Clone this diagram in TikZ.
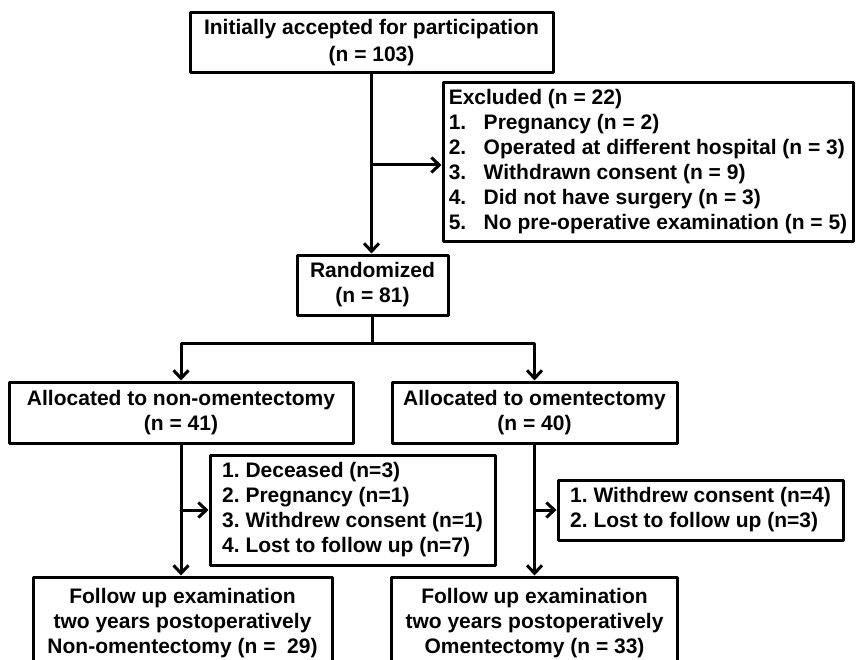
\documentclass[tikz,border=0pt]{standalone}
\usepackage{fontspec}
\setmainfont{Liberation Sans}
\usepackage{tikz}
\usetikzlibrary{arrows.meta}
\usetikzlibrary{positioning}
\tikzset{
  box/.style={draw,line width=3pt,align=center,inner sep=0pt,font=\fontsize{21}{25}\selectfont\bfseries},
  listbox/.style={box,align=left},
  link/.style={line width=3pt,-{Straight Barb[length=8pt,width=15pt,line width=3pt]}}
}
\newcommand{\itm}[1]{\makebox[35pt][l]{#1}}
\frenchspacing

\begin{document}
\begin{tikzpicture}[x=1pt,y=-1pt,line cap=round,line join=round]
\useasboundingbox (0,0) rectangle (858,660);
\clip (0,0) rectangle (858,660);
%% boxes
\node[box,minimum width=363pt,minimum height=60pt] (init) at (371.5,43) {Initially accepted for participation\\[2pt](n = 103)};
\node[listbox,minimum width=410pt,minimum height=158pt] (excl) at (648,162) {Excluded (n = 22)\\
\itm{1.}Pregnancy (n = 2)\\
\itm{2.}Operated at different hospital (n = 3)\\
\itm{3.}Withdrawn consent (n = 9)\\
\itm{4.}Did not have surgery (n = 3)\\
\itm{5.}No pre-operative examination (n = 5)};
\node[box,minimum width=151pt,minimum height=60pt] (rand) at (372.5,285) {Randomized\\(n = 81)};
\node[box,minimum width=344pt,minimum height=61pt] (lalloc) at (181,412.5) {Allocated to non-omentectomy\\(n = 41)};
\node[box,minimum width=285pt,minimum height=61pt] (ralloc) at (534.5,412.5) {Allocated to omentectomy\\(n = 40)};
\node[listbox,minimum width=285pt,minimum height=110pt] (ldrop) at (352.5,510) {1. Deceased (n=3)\\
2. Pregnancy (n=1)\\
3. Withdrew consent (n=1)\\
4. Lost to follow up (n=7)};
\node[listbox,minimum width=285pt,minimum height=60pt] (rdrop) at (700.5,510) {1. Withdrew consent (n=4)\\
2. Lost to follow up (n=3)};
\node[box,minimum width=299pt,minimum height=92pt] (lfollow) at (182.5,623) {Follow up examination\\two years postoperatively\\Non-omentectomy (n = ~29)};
\node[box,minimum width=286pt,minimum height=92pt] (rfollow) at (534.5,623) {Follow up examination\\two years postoperatively\\Omentectomy (n = 33)};
%% connectors
\coordinate (exarr) at (372,165);
\coordinate (split) at (372,343);
\draw[link] (init.south) -- (init.south |- rand.north);
\draw[link] (exarr) -- (exarr -| excl.west);
\draw[line width=3pt] (rand.south) -- (rand.south |- split);
\draw[link] (rand.south |- split) -| (lalloc.north);
\draw[link] (rand.south |- split) -| (ralloc.north);
\draw[link] (lalloc.south) -- (lalloc.south |- lfollow.north);
\draw[link] (lalloc.south |- ldrop.west) -- (ldrop.west);
\draw[link] (ralloc.south) -- (ralloc.south |- rfollow.north);
\draw[link] (ralloc.south |- rdrop.west) -- (rdrop.west);
\end{tikzpicture}
\end{document}
